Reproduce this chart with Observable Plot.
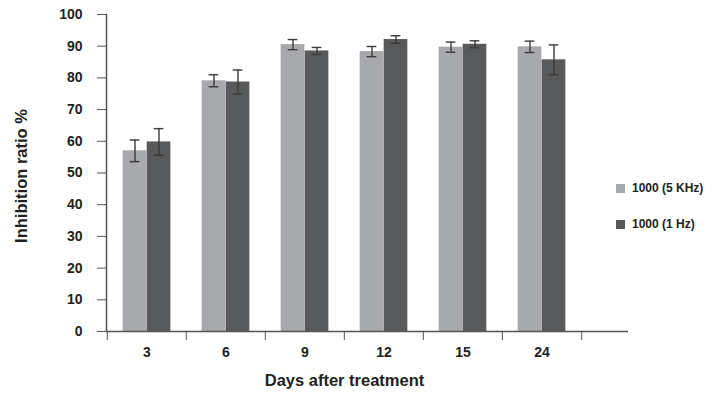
<!DOCTYPE html>
<html><head><meta charset="utf-8">
<script src="https://cdn.jsdelivr.net/npm/d3@7"></script>
<script src="https://cdn.jsdelivr.net/npm/@observablehq/plot@0.6"></script>
<style>
body{margin:0;background:#fff}
#chart{position:relative;width:724px;height:400px;font-family:"Liberation Sans",Arial,Helvetica,sans-serif;color:#231f20}
#legend{position:absolute;left:616px;top:182px;font-size:12px;font-weight:bold}
#legend .item{display:flex;align-items:center;height:12px;margin-bottom:24px;white-space:pre}
#legend .sw{width:9px;height:9px;margin-right:7px}
</style>
</head><body><div id="chart"><div id="legend"></div></div>
<script>
const days = ["3", "6", "9", "12", "15", "24"];
const seriesNames = ["1000 (5 KHz)", "1000 (1 Hz)"];
const khz5 = [57.0, 79.1, 90.5, 88.3, 89.7, 89.8];
const khz5Err = [3.4, 1.9, 1.6, 1.6, 1.6, 1.8];
const hz1 = [59.8, 78.7, 88.5, 92.1, 90.6, 85.7];
const hz1Err = [4.2, 3.8, 1.1, 1.2, 1.1, 4.7];
const yTicks = [0, 10, 20, 30, 40, 50, 60, 70, 80, 90, 100];
const colors = ["#a7a9ac", "#58595b"];

const s0 = days.map((d, i) => ({day: d, series: seriesNames[0], value: khz5[i], err: khz5Err[i]}));
const s1 = days.map((d, i) => ({day: d, series: seriesNames[1], value: hz1[i], err: hz1Err[i]}));

const W = 724, H = 400, mL = 106, mR = 96, mT = 14, mB = 69;
const xRight = 582;
const bw = (xRight - mL) / days.length;
const barW = 24;
const side = (bw - 2 * barW) / 2;
const capW = 10;
const ink = "#231f20";
const errInk = "#3a3a3a";

function errMarks(data, off) {
  return [
    Plot.ruleX(data, {x: "day", y1: d => d.value - d.err, y2: d => d.value + d.err, dx: off, stroke: errInk, strokeWidth: 1.4}),
    Plot.tickY(data, {x: "day", y: d => d.value - d.err, dx: off, insetLeft: (bw - capW) / 2, insetRight: (bw - capW) / 2, stroke: errInk, strokeWidth: 1.4}),
    Plot.tickY(data, {x: "day", y: d => d.value + d.err, dx: off, insetLeft: (bw - capW) / 2, insetRight: (bw - capW) / 2, stroke: errInk, strokeWidth: 1.4})
  ];
}

const chart = Plot.plot({
  width: W, height: H,
  marginLeft: mL, marginRight: mR, marginTop: mT, marginBottom: mB,
  style: {fontFamily: '"Liberation Sans", Arial, Helvetica, sans-serif', color: ink, background: "#fff"},
  x: {domain: days, range: [mL, xRight], padding: 0},
  y: {domain: [0, 100], range: [H - mB, mT]},
  color: {domain: seriesNames, range: colors},
  marks: [
    Plot.barY(s0, {x: "day", y: "value", fill: "series", insetLeft: side, insetRight: side + barW}),
    Plot.barY(s1, {x: "day", y: "value", fill: "series", insetLeft: side + barW, insetRight: side}),
    ...errMarks(s0, -barW / 2),
    ...errMarks(s1, barW / 2),
    Plot.frame({anchor: "left", stroke: "#555", strokeWidth: 1.5}),
    Plot.ruleY([0], {stroke: "#555", strokeWidth: 1.5}),
    Plot.axisY({ticks: yTicks, tickSize: 9, tickPadding: 15, fontSize: 14, fontWeight: "bold", stroke: "#555",
      label: "Inhibition ratio %", labelAnchor: "center", labelArrow: "none", labelOffset: 91}),
    Plot.axisX({tickSize: 0, tickPadding: 16, fontSize: 14, fontWeight: "bold",
      label: "Days after treatment", labelAnchor: "center", labelArrow: "none", labelOffset: 54}),
    Plot.axisX({tickSize: 9, tickFormat: () => "", dx: -bw / 2, stroke: "#555", label: null}),
    Plot.axisX({ticks: [days[days.length - 1]], tickSize: 9, tickFormat: () => "", dx: bw / 2, stroke: "#555", label: null})
  ]
});
chart.style.position = "absolute";
chart.style.left = "0";
chart.style.top = "0";
const svg = d3.select(chart);
svg.selectAll("text").attr("fill", ink);
function styleLabel(sel, size, tx, ty) {
  sel.attr("font-size", size).style("font-size", size + "px").attr("font-weight", "bold").style("font-weight", "bold");
  sel.selectAll("text").style("font-size", size + "px").style("font-weight", "bold");
  sel.each(function() {
    const t = this.getAttribute("transform") || "";
    this.setAttribute("transform", `translate(${tx},${ty}) ${t}`);
  });
}
styleLabel(svg.selectAll('g[aria-label="y-axis label"]'), 16.5, 0, 3);
styleLabel(svg.selectAll('g[aria-label="x-axis label"]'), 16.5, -23, 0);
document.getElementById("chart").prepend(chart);

const lg = d3.select("#legend");
seriesNames.forEach((n, i) => {
  const it = lg.append("div").attr("class", "item");
  it.append("div").attr("class", "sw").style("background", colors[i]);
  it.append("span").text(n);
});
</script>
</body></html>
